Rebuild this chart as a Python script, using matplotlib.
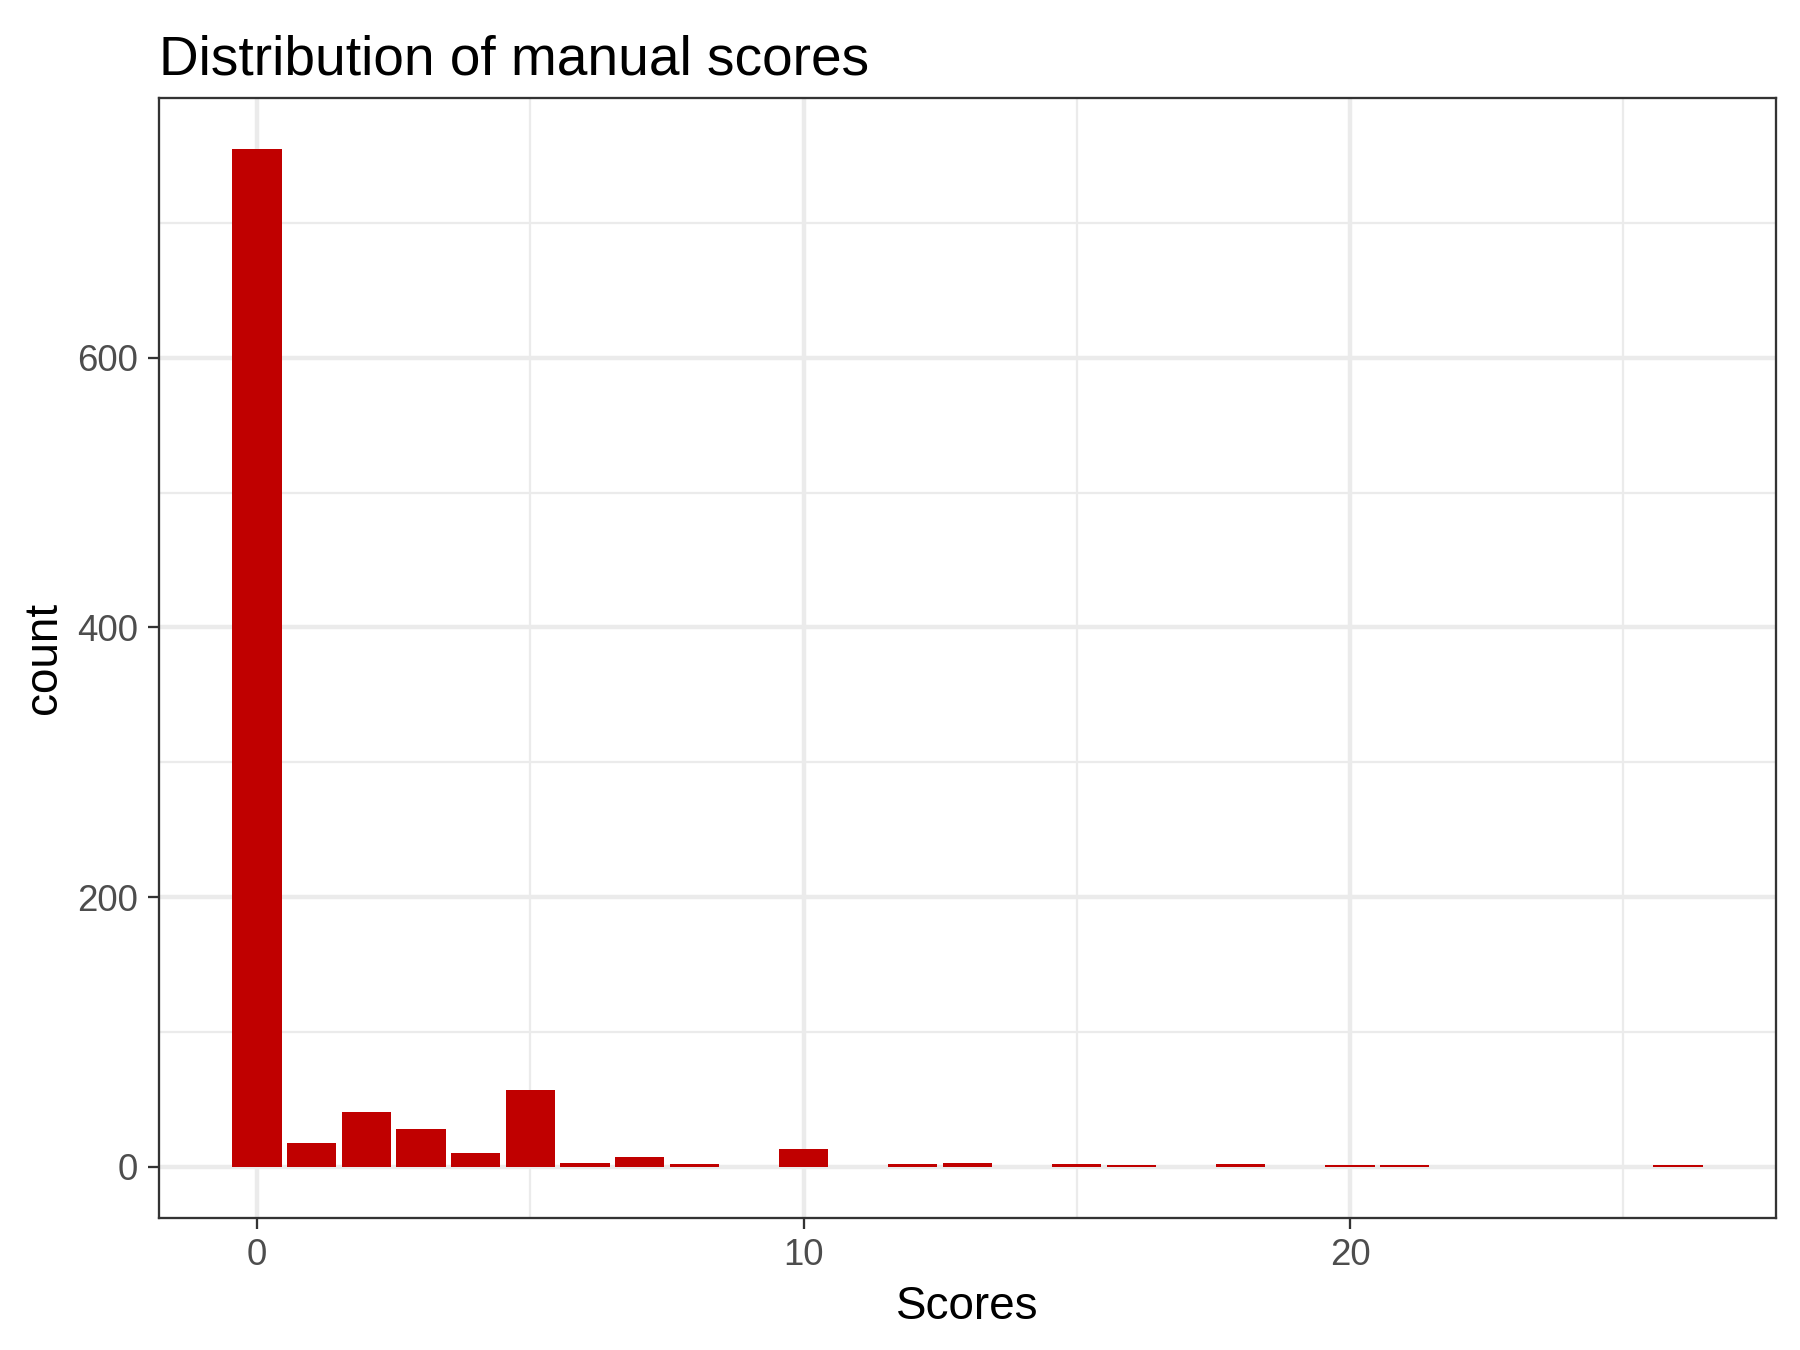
import matplotlib
matplotlib.use('Agg')
import matplotlib.pyplot as plt
from matplotlib.ticker import MultipleLocator

plt.rcParams['font.family'] = ['Liberation Sans', 'DejaVu Sans']

# counts per manual score
scores = [0, 1, 2, 3, 4, 5, 6, 7, 8, 10, 12, 13, 15, 16, 18, 20, 21, 26]
counts = [755, 18, 41, 28, 10, 57, 3, 7, 2, 13, 2, 3, 2, 1, 2, 1, 1, 1]

fig = plt.figure(figsize=(6, 4.5), dpi=300)
ax = fig.add_axes([0.0883, 0.098, 0.8984, 0.8296])

ax.bar(scores, counts, width=0.9, color='#C00000', zorder=3)

# ggplot style 5% expansion
xmin, xmax = min(scores) - 0.45, max(scores) + 0.45
xr = xmax - xmin
ax.set_xlim(xmin - 0.05 * xr, xmax + 0.05 * xr)
ymax = max(counts)
ax.set_ylim(-0.05 * ymax, ymax * 1.05)

ax.xaxis.set_major_locator(MultipleLocator(10))
ax.xaxis.set_minor_locator(MultipleLocator(5))
ax.yaxis.set_major_locator(MultipleLocator(200))
ax.yaxis.set_minor_locator(MultipleLocator(100))

ax.grid(which='major', color='#EBEBEB', linewidth=1.07, zorder=0)
ax.grid(which='minor', color='#EBEBEB', linewidth=0.53, zorder=0)
ax.set_axisbelow(True)

for s in ax.spines.values():
    s.set_color('#333333')
    s.set_linewidth(0.55)

ax.tick_params(which='major', length=2.75, width=0.55, color='#333333',
               labelsize=8.8, labelcolor='#4D4D4D', pad=2.2)
ax.tick_params(which='minor', length=0)

ax.set_xlabel('Scores', fontsize=11, labelpad=2.75)
ax.set_ylabel('count', fontsize=11, labelpad=2.75)
ax.set_title('Distribution of manual scores', loc='left', fontsize=13.2, pad=5.5)

plt.savefig('out.png', dpi=300)
